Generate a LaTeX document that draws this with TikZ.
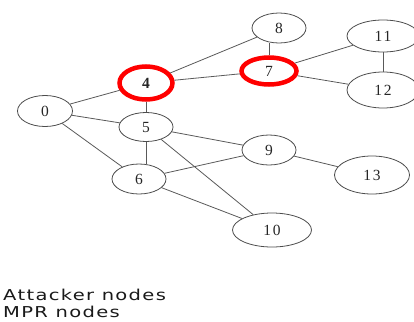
\documentclass[tikz,border=0pt]{standalone}
\usepackage{fontspec}
\usetikzlibrary{shapes.geometric,positioning}
\newfontfamily\labelfont[LetterSpace=12]{Liberation Serif}
\newfontfamily\legendfont[FakeStretch=1.3,LetterSpace=9]{DejaVu Sans}
\begin{document}
\begin{tikzpicture}[x=1pt, y=-1pt,
	peer/.style = {ellipse, draw=black!70, line width=0.8pt, inner sep=0pt, minimum width=54pt, minimum height=30pt, font=\labelfont\fontsize{15.5}{15.5}\selectfont, text=black!85},
	attacker/.style = {peer, draw=red, line width=4.5pt},
	link/.style = {draw=black!65, line width=0.8pt},
	legend/.style = {anchor=base west, inner sep=0pt, font=\legendfont\fontsize{15}{15}\selectfont, text=black!90}]
	\useasboundingbox (0,0) rectangle (414,321);
	% nodes
	\node[peer, minimum width=55pt, minimum height=31pt] (n0) at (45,111) {0};
	\node[attacker, minimum width=53pt, minimum height=33pt, font=\labelfont\bfseries\fontsize{15.5}{15.5}\selectfont] (n4) at (146,83) {4};
	\node[peer, minimum height=29pt] (n5) at (146,127) {5};
	\node[peer] (n6) at (139,179) {6};
	\node[peer] (n8) at (279,28) {8};
	\node[attacker, minimum width=55pt, minimum height=27pt] (n7) at (269,71) {7};
	\node[peer] (n9) at (269,150) {9};
	\node[peer, minimum width=72pt, minimum height=32pt] (n11) at (383,36) {11};
	\node[peer, minimum width=72pt, minimum height=36pt] (n12) at (383,90) {12};
	\node[peer, minimum width=75pt, minimum height=38pt] (n13) at (372,175) {13};
	\node[peer, minimum width=79pt, minimum height=34pt] (n10) at (272,230) {10};
	% links
	\draw[link] (n0) -- (n4);
	\draw[link] (n0) -- (n5);
	\draw[link] (n0) -- (n6);
	\draw[link] (n4) -- (n5);
	\draw[link] (n4) -- (n8);
	\draw[link] (n4) -- (n7);
	\draw[link] (n8.south -| n7.north) -- (n7.north);
	\draw[link] (n7) -- (n11);
	\draw[link] (n7) -- (n12);
	\draw[link] (n11) -- (n12);
	\draw[link] (n5.south) -- (n6.north -| n5.south);
	\draw[link] (n5) -- (n9);
	\draw[link] (n5) -- (n10);
	\draw[link] (n6) -- (n9);
	\draw[link] (n6) -- (n10);
	\draw[link] (n9) -- (n13);
	% legend
	\node[legend] (attlbl) at (3,300) {Attacker nodes};
	\node[legend, below=17pt of attlbl.base west, anchor=base west] (mprlbl) {MPR nodes};
\end{tikzpicture}
\end{document}
